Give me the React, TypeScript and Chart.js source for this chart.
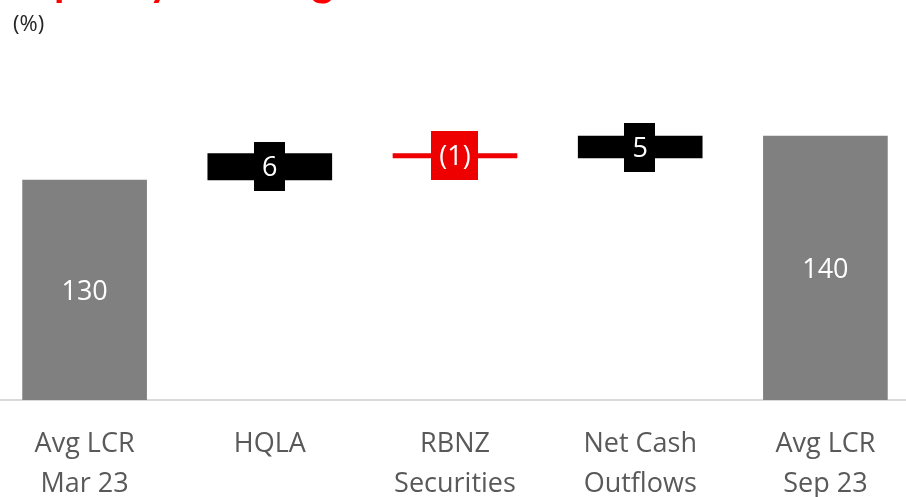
import React, { useEffect, useRef } from "react";
import { Chart, registerables } from "chart.js";

Chart.register(...registerables);

const categories: string[][] = [
  ["Avg LCR", "Mar 23"],
  ["HQLA"],
  ["RBNZ", "Securities"],
  ["Net Cash", "Outflows"],
  ["Avg LCR", "Sep 23"],
];
const values: number[] = [130, 6, -1, 5, 140];
const isTotal: boolean[] = [true, false, false, false, true];
const yMin = 80;
const yMax = 160;

const GRAY = "#808080";
const BLACK = "#000000";
const RED = "#ee0000";

function buildRanges(): [number, number][] {
  const out: [number, number][] = [];
  let level = 0;
  values.forEach((v, i) => {
    if (isTotal[i]) {
      out.push([yMin, v]);
      level = v;
    } else {
      out.push([level, level + v]);
      level += v;
    }
  });
  return out;
}

function labelText(i: number): string {
  const v = values[i];
  return v < 0 ? `(${Math.abs(v)})` : String(v);
}

const labelPlugin = {
  id: "wfLabels",
  afterDatasetsDraw(chart: any) {
    const ctx = chart.ctx;
    const meta = chart.getDatasetMeta(0);
    ctx.save();
    ctx.font = "27px 'Open Sans', sans-serif";
    ctx.textAlign = "center";
    ctx.textBaseline = "middle";
    meta.data.forEach((el: any, i: number) => {
      const props = el.getProps(["x", "y", "base"], true);
      const cy = (props.y + props.base) / 2;
      const txt = labelText(i);
      if (!isTotal[i]) {
        const w = ctx.measureText(txt).width + 16;
        const h = 49;
        ctx.fillStyle = values[i] < 0 ? RED : BLACK;
        ctx.fillRect(Math.round(props.x - w / 2), Math.round(cy - h / 2), Math.round(w), h);
      }
      ctx.fillStyle = "#ffffff";
      ctx.fillText(txt, props.x, cy + 2);
    });
    ctx.restore();
  },
};

export default function App() {
  const ref = useRef<HTMLCanvasElement | null>(null);
  useEffect(() => {
    if (!ref.current) return;
    const ranges = buildRanges();
    const chart = new Chart(ref.current, {
      type: "bar",
      data: {
        labels: categories,
        datasets: [
          {
            data: ranges as any,
            backgroundColor: values.map((v, i) => (isTotal[i] ? GRAY : v < 0 ? RED : BLACK)),
            borderWidth: 0,
            borderSkipped: false,
            barThickness: 124,
          },
        ],
      },
      options: {
        animation: false,
        responsive: false,
        maintainAspectRatio: false,
        layout: { padding: { top: 48, left: 0, right: 0, bottom: 0 } },
        plugins: {
          legend: { display: false },
          tooltip: { enabled: false },
        },
        scales: {
          x: {
            grid: { display: false, drawTicks: false },
            border: { display: true, color: "#d9d9d9", width: 2 },
            afterFit: (scale: any) => {
              scale.height = 97;
            },
            ticks: {
              color: "#595959",
              font: { family: "'Open Sans', sans-serif", size: 27, lineHeight: 1.48 },
              padding: 24,
              maxRotation: 0,
              autoSkip: false,
            },
          },
          y: {
            display: false,
            min: yMin,
            max: yMax,
          },
        },
      },
      plugins: [labelPlugin],
    });
    return () => chart.destroy();
  }, []);

  return (
    <div style={{ position: "absolute", left: 0, top: 0, width: 906, height: 497, overflow: "hidden", background: "#fff" }}>
      <div style={{ position: "absolute", left: -8, top: 0, width: 926, height: 497 }}>
        <canvas ref={ref} width={926} height={497} style={{ width: 926, height: 497 }} />
      </div>
      <div
        style={{
          position: "absolute",
          left: 8,
          top: -42,
          fontFamily: "Lato, sans-serif",
          fontWeight: 700,
          fontSize: 42,
          lineHeight: "44px",
          color: "#ff0000",
          whiteSpace: "nowrap",
        }}
      >
        Liquidity Coverage Ratio
      </div>
      <div
        style={{
          position: "absolute",
          left: 13,
          top: 8,
          fontFamily: "'Open Sans', sans-serif",
          fontSize: 22,
          lineHeight: "28px",
          color: "#262626",
        }}
      >
        (%)
      </div>
    </div>
  );
}
